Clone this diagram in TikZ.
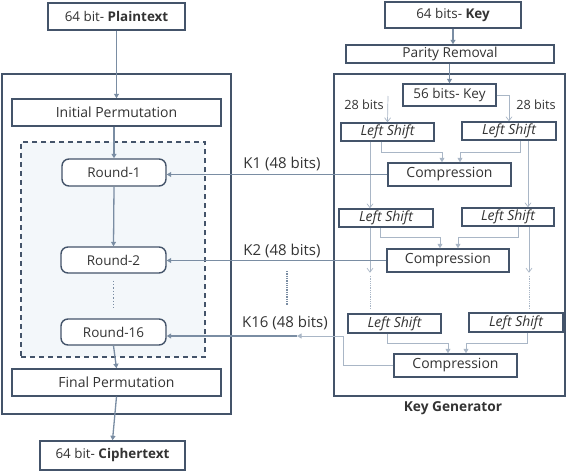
\documentclass[tikz,border=0pt]{standalone}
\usepackage{fontspec}
\setmainfont{Open Sans}
\usetikzlibrary{arrows.meta,calc}
\definecolor{boxc}{HTML}{44546A}
\definecolor{arrc}{HTML}{7A8DA3}
\definecolor{thinc}{HTML}{A9B6C6}
\definecolor{txtc}{HTML}{333333}
\definecolor{dashfill}{HTML}{F3F7FA}
\begin{document}
\begin{tikzpicture}[x=1pt,y=-1pt,
  txt/.style={text=txtc,font=\fontsize{14}{16}\selectfont},
  bx/.style={draw=boxc,line width=1.4pt,fill=white,inner sep=0pt,txt},
  outer/.style={draw=boxc,line width=1.8pt,inner sep=0pt},
  rnd/.style={bx,rounded corners=7pt,font=\fontsize{13.5}{16}\selectfont},
  ls/.style={bx,font=\fontsize{14}{16}\selectfont\itshape},
  kb/.style={bx,font=\fontsize{13.7}{16}\selectfont},
  arr/.style={draw=arrc,line width=1.3pt,-{Triangle[width=5pt,length=4.5pt]}},
  sarr/.style={draw=thinc,line width=0.8pt,-{Triangle[width=5pt,length=4.5pt]}},
  tarr/.style={draw=thinc,line width=0.7pt,-{Straight Barb[width=6pt,length=4pt]}},
  lbl/.style={txt,inner sep=0pt},
]
\useasboundingbox (0,0) rectangle (566,471);
% left side
\node[outer,minimum width=229,minimum height=340] (lout) at (116.5,244) {};
\node[draw=boxc,line width=1.1pt,fill=dashfill,dash pattern=on 5pt off 4pt,minimum width=184,minimum height=215] (dash) at (113,249.5) {};
\node[bx,minimum width=137,minimum height=27,font=\fontsize{13.4}{16}\selectfont] (plain) at (116.5,16.5) {64 bit- \textbf{Plaintext}};
\node[bx,minimum width=209,minimum height=27] (ip) at (116.5,112.5) {Initial Permutation};
\node[rnd,minimum width=104,minimum height=27] (r1) at (114,172.5) {Round-1};
\node[rnd,minimum width=105,minimum height=26] (r2) at (113.5,260) {Round-2};
\node[rnd,minimum width=105,minimum height=26] (r16) at (113.5,332) {Round-16};
\node[bx,minimum width=209,minimum height=27] (fp) at (116.5,382.5) {Final Permutation};
\node[bx,minimum width=145,minimum height=29,font=\fontsize{13.4}{16}\selectfont] (ct) at (112.5,455.5) {64 bit- \textbf{Ciphertext}};
% right side
\node[outer,minimum width=231,minimum height=322] (kout) at (449.5,235) {};
\node[bx,minimum width=136,minimum height=26,font=\fontsize{13.4}{16}\selectfont] (key) at (453,15) {64 bits- \textbf{Key}};
\node[kb,minimum width=208,minimum height=18] (par) at (450,54) {Parity Removal};
\node[bx,minimum width=93,minimum height=22,font=\fontsize{13.5}{16}\selectfont] (k56) at (449.5,95) {56 bits- Key};
\node[ls,minimum width=93,minimum height=18] (ls1a) at (387.5,132) {Left Shift};
\node[ls,minimum width=94,minimum height=18] (ls1b) at (509,131) {Left Shift};
\node[bx,minimum width=123,minimum height=23] (c1) at (449.5,174.5) {Compression};
\node[ls,minimum width=94,minimum height=18] (ls2a) at (386,218) {Left Shift};
\node[ls,minimum width=92,minimum height=18] (ls2b) at (508,217) {Left Shift};
\node[bx,minimum width=122,minimum height=23] (c2) at (448,260.5) {Compression};
\node[ls,minimum width=93,minimum height=19] (ls3a) at (394.5,323.5) {Left Shift};
\node[ls,minimum width=94,minimum height=19] (ls3b) at (516,322.5) {Left Shift};
\node[bx,minimum width=123,minimum height=23] (c3) at (455.5,365.5) {Compression};
\node[lbl,font=\fontsize{13.7}{16}\selectfont\bfseries] (kg) at (453,408) {Key Generator};
\node[lbl,font=\fontsize{12.7}{15}\selectfont] (b28l) at (364,105) {28 bits};
\node[lbl,font=\fontsize{12.7}{15}\selectfont] (b28r) at (536,105) {28 bits};
\node[lbl,font=\fontsize{15}{17}\selectfont] (k1l) at (282,164) {K1 (48 bits)};
\node[lbl,font=\fontsize{15}{17}\selectfont] (k2l) at (282,251) {K2 (48 bits)};
\node[lbl,font=\fontsize{15}{17}\selectfont] (k16l) at (285,323) {K16 (48 bits)};
% left flow
\draw[arr] (plain.south) -- (ip.north);
\draw[arr] (r1.north |- ip.south) -- (r1.north);
\draw[arr] (r1.south) -- (r2.north);
\draw[draw=arrc,line width=1.3pt,dotted,shorten <=7pt,shorten >=9pt] (r2.south) -- (r16.north);
\draw[arr] (r16.south) -- (fp.north);
\draw[arr] (fp.south) -- (ct.north);
% key flow
\draw[arr] (key.south) -- (key.south |- par.north);
\draw[arr] (par.south -| k56.north) -- (k56.north);
\coordinate (s28l) at (388,96);
\draw[tarr] (s28l) -- (ls1a.north);
\draw[tarr] (k56.east) -| (ls1b.north);
\draw[sarr] ([xshift=-6.5pt]ls1a.south) |- ([xshift=-7.5pt,yshift=10pt]c1.north) -- ([xshift=-7.5pt]c1.north);
\draw[sarr] ([xshift=11pt]ls1b.south) |- ([xshift=10.5pt,yshift=10pt]c1.north) -- ([xshift=10.5pt]c1.north);
\draw[tarr] ([xshift=-17.5pt]ls1a.south) -- ([xshift=-17.5pt]ls1a.south |- ls2a.north);
\draw[tarr] ([xshift=19pt]ls1b.south) -- ([xshift=19pt]ls1b.south |- ls2b.north);
\draw[sarr] ([xshift=-6pt]ls2a.south) |- ([xshift=-8pt,yshift=11pt]c2.north) -- ([xshift=-8pt]c2.north);
\draw[sarr] ([xshift=10pt]ls2b.south) |- ([xshift=10pt,yshift=11pt]c2.north) -- ([xshift=10pt]c2.north);
\coordinate (d2a) at ([xshift=-16pt,yshift=-45pt]ls2a.south);
\coordinate (d2b) at ([xshift=21pt,yshift=-46pt]ls2b.south);
\draw[tarr] ([xshift=-16pt]ls2a.south) -- (d2a);
\draw[tarr] ([xshift=21pt]ls2b.south) -- (d2b);
\draw[draw=thinc,line width=0.8pt,densely dotted] ([yshift=-3pt]d2a) -- ([yshift=4pt]d2a |- ls3a.north);
\draw[draw=thinc,line width=0.8pt,densely dotted] ([yshift=-3pt]d2b) -- ([yshift=3pt]d2b |- ls3b.north);
\draw[sarr] ([xshift=-7.5pt]ls3a.south) |- ([xshift=-7.5pt,yshift=10pt]c3.north) -- ([xshift=-7.5pt]c3.north);
\draw[sarr] ([xshift=11pt]ls3b.south) |- ([xshift=10.5pt,yshift=10pt]c3.north) -- ([xshift=10.5pt]c3.north);
% keys
\draw[arr,line width=1.1pt] (c1.west) -- (c1.west -| r1.east);
\draw[arr,line width=1.1pt] (c2.west) -- (c2.west -| r2.east);
\coordinate (kturn) at (343,336);
\coordinate (kmid) at (297,336);
\draw[draw=thinc,line width=0.9pt,-{Triangle[width=5pt,length=4.5pt]}] (c3.west) -| (kturn) -- (kmid);
\draw[arr,line width=1.1pt] (kmid) -- (kmid -| r16.east);
\coordinate (vd1) at (287,271);
\coordinate (vd2) at (287,305);
\draw[draw=arrc,line width=1.3pt,densely dotted] (vd1) -- (vd2);
\end{tikzpicture}
\end{document}
